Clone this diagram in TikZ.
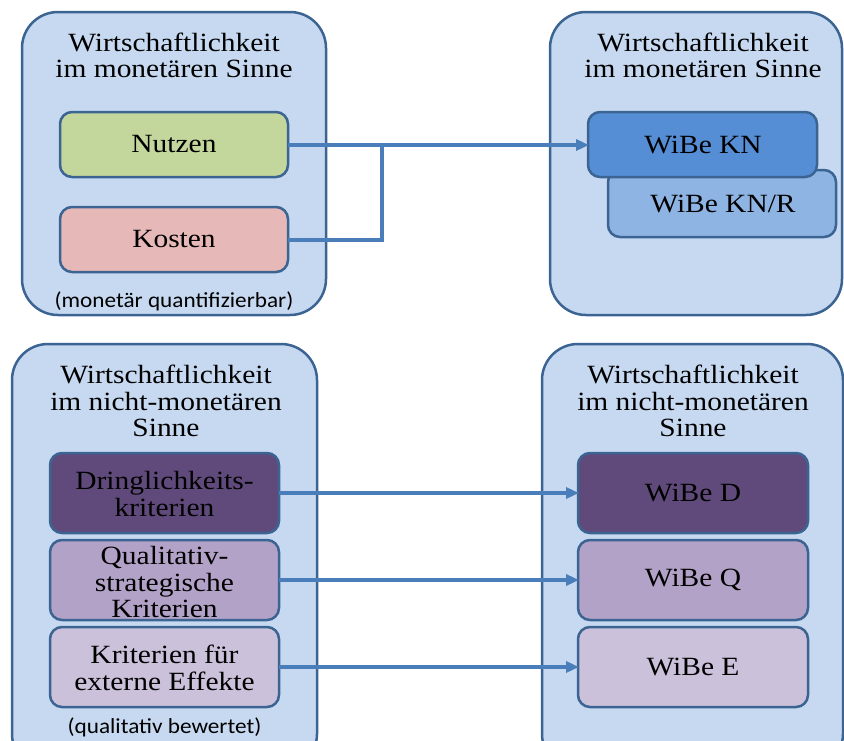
\documentclass[tikz,border=0pt]{standalone}
\usepackage{fontspec}
\setmainfont{Liberation Serif}[FakeStretch=1.12]
\newfontfamily\notefont{Carlito}[FakeStretch=1.08]
\usetikzlibrary{arrows.meta}
\definecolor{panelfill}{HTML}{C6D9F1}
\definecolor{panelline}{HTML}{3B6493}
\definecolor{linkblue}{HTML}{4A7EBB}
\definecolor{nutzenfill}{HTML}{C3D69B}
\definecolor{kostenfill}{HTML}{E6B9B8}
\definecolor{knfill}{HTML}{558ED5}
\definecolor{knrfill}{HTML}{8EB4E3}
\definecolor{dfill}{HTML}{604A7B}
\definecolor{qfill}{HTML}{B3A2C7}
\definecolor{efill}{HTML}{CCC1DA}
\tikzset{
  panel/.style={draw=panelline, line width=2.5pt, fill=panelfill, rounded corners=36pt},
  item/.style={draw=panelline, line width=2.5pt, rounded corners=12pt},
  label/.style={align=center, inner sep=0pt, font=\fontsize{26.3}{26.5}\selectfont},
  note/.style={inner sep=0pt, font=\notefont\fontsize{21.5}{22}\selectfont},
  link/.style={draw=linkblue, line width=3.5pt},
  linkarrow/.style={link, -{Triangle[length=13pt,width=11pt]}, shorten >=-1pt}
}
\begin{document}
\begin{tikzpicture}[x=1pt,y=-1pt]
\useasboundingbox (0,0) rectangle (844,740);
\begin{scope}
\clip (0,0) rectangle (844,740);
% panels
\path[panel] (22,12) rectangle (326,315);
\path[panel] (550,12) rectangle (842,315);
\path[panel] (12,344) rectangle (317,770);
\path[panel] (542,344) rectangle (843,770);
\end{scope}

% panel titles
\node[label] (t1) at (174,55.5) {Wirtschaftlichkeit\\im monetären Sinne};
\node[label] (t2) at (703,55.5) {Wirtschaftlichkeit\\im monetären Sinne};
\node[label] (t3) at (166,401) {Wirtschaftlichkeit\\im nicht-monetären\\Sinne};
\node[label] (t4) at (693,401) {Wirtschaftlichkeit\\im nicht-monetären\\Sinne};

% monetary items
\path[item, fill=nutzenfill] (60,112) rectangle (288,177);
\node[label] (nutzen) at (174,144.5) {Nutzen};
\coordinate (nutzenR) at (288,145);
\path[item, fill=kostenfill] (60,207) rectangle (288,272);
\node[label] (kosten) at (174,239.5) {Kosten};
\coordinate (kostenR) at (288,240);
\node[note] (n1) at (174,301) {(monetär quantifizierbar)};

\path[item, fill=knrfill] (608,170) rectangle (836,237);
\node[label] (knr) at (723,204) {WiBe KN/R};
\path[item, fill=knfill] (588,112) rectangle (817,177);
\node[label] (kn) at (703,144.5) {WiBe KN};
\coordinate (knL) at (588,145);

% non-monetary items
\path[item, fill=dfill] (50,453) rectangle (279,533);
\node[label] (dr) at (164.5,494) {Dringlichkeits-\\kriterien};
\path[item, fill=qfill] (50,540) rectangle (279,620);
\node[label] (qs) at (164.5,582) {Qualitativ-\\strategische\\Kriterien};
\path[item, fill=efill] (50,627) rectangle (279,707);
\node[label] (ke) at (164.5,668) {Kriterien für\\externe Effekte};
\node[note] (n2) at (164.5,727) {(qualitativ bewertet)};

\path[item, fill=dfill] (578,453) rectangle (808,533);
\node[label] (wd) at (693,493) {WiBe D};
\path[item, fill=qfill] (578,540) rectangle (808,620);
\node[label] (wq) at (693,580) {WiBe Q};
\path[item, fill=efill] (578,627) rectangle (808,707);
\node[label] (we) at (693,667) {WiBe E};

% connectors
\coordinate (dR) at (279,493);
\coordinate (dL) at (578,493);
\coordinate (qR) at (279,580);
\coordinate (qL) at (578,580);
\coordinate (eR) at (279,667);
\coordinate (eL) at (578,667);
\coordinate (joint) at (382,145);
\draw[linkarrow] (nutzenR) -- (knL);
\draw[link] (kostenR) -| (joint);
\draw[linkarrow] (dR) -- (dL);
\draw[linkarrow] (qR) -- (qL);
\draw[linkarrow] (eR) -- (eL);
\end{tikzpicture}
\end{document}
